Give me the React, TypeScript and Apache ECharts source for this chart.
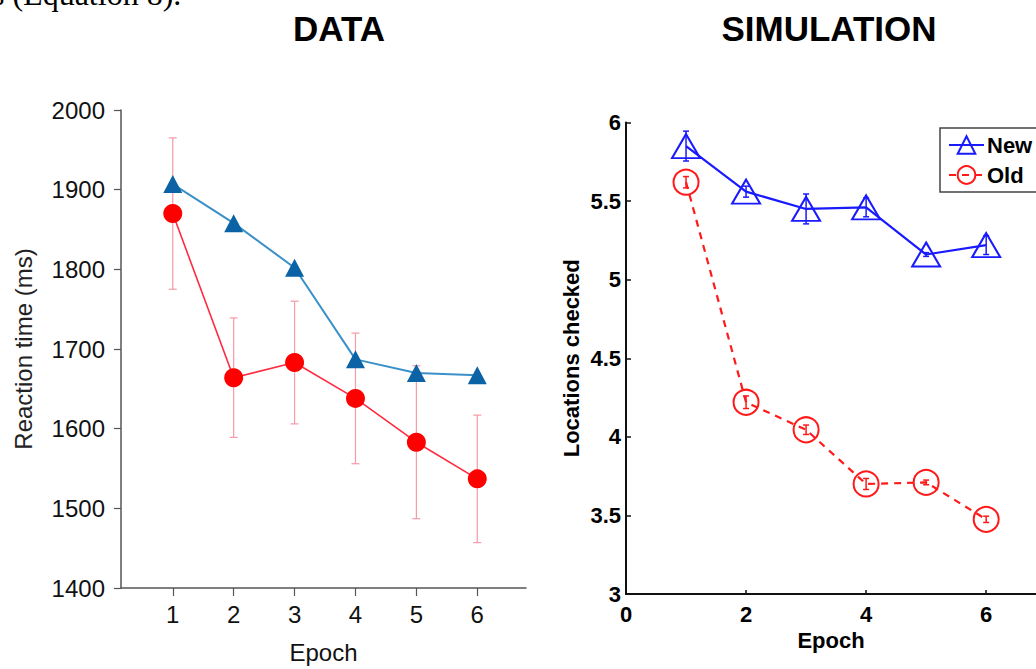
import React, { useEffect, useRef } from "react";
import * as echarts from "echarts";

// Epochs shared by both panels
const epochs = [1, 2, 3, 4, 5, 6];

// DATA panel: reaction times (ms)
const rtOld = [1870, 1664, 1683, 1638, 1583, 1537];
const rtOldErr = [95, 75, 77, 82, 96, 80];
const rtNew = [1907, 1858, 1802, 1687, 1670, 1667];

// SIMULATION panel: locations checked
const simNew = [5.85, 5.56, 5.45, 5.46, 5.16, 5.22];
const simNewErr = [0.095, 0.035, 0.095, 0.06, 0.012, 0.06];
const simOld = [5.62, 4.22, 4.045, 3.7, 3.71, 3.475];
const simOldErr = [0.036, 0.04, 0.03, 0.035, 0.015, 0.02];

const rtTicks = [1400, 1500, 1600, 1700, 1800, 1900, 2000];
const simEpochTicks = [0, 2, 4, 6];

const FONT = "Liberation Sans";

const pairs = (vals: number[]) => epochs.map((e, i) => [e, vals[i]]);
const ranges = (vals: number[], errs: number[]) =>
  epochs.map((e, i) => [e, vals[i] - errs[i], vals[i] + errs[i]]);

function errorBarRenderer(color: string, capHalf: number, width: number) {
  return (params: any, api: any) => {
    const x = api.value(0);
    const lo = api.value(1);
    const hi = api.value(2);
    const top = api.coord([x, hi]);
    const bot = api.coord([x, lo]);
    const style = { stroke: color, lineWidth: width, fill: "none" };
    return {
      type: "group",
      children: [
        { type: "line", shape: { x1: top[0], y1: top[1], x2: bot[0], y2: bot[1] }, style },
        { type: "line", shape: { x1: top[0] - capHalf, y1: top[1], x2: top[0] + capHalf, y2: top[1] }, style },
        { type: "line", shape: { x1: bot[0] - capHalf, y1: bot[1], x2: bot[0] + capHalf, y2: bot[1] }, style },
      ],
    };
  };
}

export default function App() {
  const ref = useRef<HTMLDivElement>(null);

  useEffect(() => {
    document.body.style.margin = "0";
    if (!ref.current) return;
    const chart = echarts.init(ref.current, undefined, { renderer: "svg" });

    const leftAxisColor = "#555";
    const rightAxisColor = "#111";

    chart.setOption({
      animation: false,
      backgroundColor: "#fff",
      textStyle: { fontFamily: FONT },
      graphic: [
        {
          type: "text",
          x: -8,
          y: -6,
          style: {
            text: "s (Equation 8).",
            font: '32px "Liberation Serif"',
            fill: "#000",
            textAlign: "left",
            textVerticalAlign: "middle",
          },
        },
        {
          type: "text",
          x: 339,
          y: 28,
          style: {
            text: "DATA",
            font: `bold 35px "${FONT}"`,
            fill: "#000",
            textAlign: "center",
            textVerticalAlign: "middle",
          },
        },
        {
          type: "text",
          x: 829,
          y: 28,
          style: {
            text: "SIMULATION",
            font: `bold 35px "${FONT}"`,
            fill: "#000",
            textAlign: "center",
            textVerticalAlign: "middle",
          },
        },
      ],
      legend: {
        data: ["New", "Old"],
        orient: "vertical",
        left: 940,
        top: 128,
        itemWidth: 35,
        itemHeight: 22,
        itemGap: 8,
        padding: [6, 30, 6, 8],
        backgroundColor: "#fff",
        borderColor: "#444",
        borderWidth: 1.5,
        textStyle: { fontSize: 22, fontWeight: "bold", color: "#000", fontFamily: FONT, padding: [0, 0, 0, -2] },
      },
      grid: [
        { left: 121, top: 110, width: 405, height: 479 },
        { left: 626, top: 122.5, width: 410, height: 471.5 },
      ],
      xAxis: [
        {
          gridIndex: 0,
          type: "value",
          min: 0.15,
          max: 6.8,
          axisLine: { onZero: false, lineStyle: { color: leftAxisColor, width: 1.5 } },
          axisTick: { show: true, customValues: epochs, length: 8, lineStyle: { color: leftAxisColor, width: 1.2 } },
          axisLabel: { customValues: epochs, fontSize: 24, color: "#111", margin: 14 },
          splitLine: { show: false },
          name: "Epoch",
          nameLocation: "middle",
          nameGap: 52,
          nameTextStyle: { fontSize: 24, color: "#111" },
        },
        {
          gridIndex: 1,
          type: "value",
          min: 0,
          max: 6.83,
          axisLine: { onZero: false, lineStyle: { color: rightAxisColor, width: 2 } },
          axisTick: {
            show: true,
            inside: true,
            customValues: simEpochTicks,
            length: 4,
            lineStyle: { color: rightAxisColor, width: 1.5 },
          },
          axisLabel: { customValues: simEpochTicks, fontSize: 22, fontWeight: "bold", color: "#000", margin: 9 },
          splitLine: { show: false },
          name: "Epoch",
          nameLocation: "middle",
          nameGap: 28,
          nameTextStyle: { fontSize: 22, fontWeight: "bold", color: "#000" },
        },
      ],
      yAxis: [
        {
          gridIndex: 0,
          type: "value",
          min: rtTicks[0],
          max: rtTicks[rtTicks.length - 1],
          interval: 100,
          axisLine: { show: true, onZero: false, lineStyle: { color: leftAxisColor, width: 1.5 } },
          axisTick: { show: true, length: 7, lineStyle: { color: leftAxisColor, width: 1.2 } },
          axisLabel: { fontSize: 24, color: "#111", margin: 16, formatter: (v: number) => String(v) },
          splitLine: { show: false },
          name: "Reaction time (ms)",
          nameLocation: "middle",
          nameGap: 86,
          nameTextStyle: { fontSize: 24, color: "#222" },
        },
        {
          gridIndex: 1,
          type: "value",
          min: 3,
          max: 6,
          interval: 0.5,
          axisLine: { show: true, onZero: false, lineStyle: { color: rightAxisColor, width: 2 } },
          axisTick: { show: true, inside: true, length: 5, lineStyle: { color: rightAxisColor, width: 1.5 } },
          axisLabel: { fontSize: 22, fontWeight: "bold", color: "#000", margin: 5 },
          splitLine: { show: false },
          name: "Locations checked",
          nameLocation: "middle",
          nameGap: 44,
          nameTextStyle: { fontSize: 22, fontWeight: "bold", color: "#000" },
        },
      ],
      series: [
        // DATA panel
        {
          type: "custom",
          name: "rt error",
          xAxisIndex: 0,
          yAxisIndex: 0,
          renderItem: errorBarRenderer("#f59aa6", 4, 1.2),
          encode: { x: 0, y: [1, 2] },
          data: ranges(rtOld, rtOldErr),
          z: 1,
        },
        {
          type: "line",
          name: "Data new",
          xAxisIndex: 0,
          yAxisIndex: 0,
          data: pairs(rtNew),
          symbol: "triangle",
          symbolSize: [19, 18],
          lineStyle: { color: "#3a90c8", width: 2 },
          itemStyle: { color: "#0b62a4" },
          z: 2,
        },
        {
          type: "line",
          name: "Data old",
          xAxisIndex: 0,
          yAxisIndex: 0,
          data: pairs(rtOld),
          symbol: "circle",
          symbolSize: 19,
          lineStyle: { color: "#ff2a40", width: 1.6 },
          itemStyle: { color: "#ff0000" },
          z: 3,
        },
        // SIMULATION panel
        {
          type: "line",
          name: "New",
          xAxisIndex: 1,
          yAxisIndex: 1,
          data: pairs(simNew),
          symbol: "triangle",
          symbolSize: [28, 24],
          lineStyle: { color: "#1a1aff", width: 2.2 },
          itemStyle: { color: "rgba(0,0,0,0)", borderColor: "#1a1aff", borderWidth: 2 },
          z: 2,
        },
        {
          type: "line",
          name: "Old",
          xAxisIndex: 1,
          yAxisIndex: 1,
          data: pairs(simOld),
          symbol: "circle",
          symbolSize: 25,
          lineStyle: { color: "#ff1a1a", width: 2.2, type: [7, 6] },
          itemStyle: { color: "rgba(0,0,0,0)", borderColor: "#ff1a1a", borderWidth: 2 },
          z: 2,
        },
        {
          type: "custom",
          name: "sim new error",
          xAxisIndex: 1,
          yAxisIndex: 1,
          renderItem: errorBarRenderer("#1a1aff", 3, 1.5),
          encode: { x: 0, y: [1, 2] },
          data: ranges(simNew, simNewErr),
          z: 3,
        },
        {
          type: "custom",
          name: "sim old error",
          xAxisIndex: 1,
          yAxisIndex: 1,
          renderItem: errorBarRenderer("#ff1a1a", 3, 1.5),
          encode: { x: 0, y: [1, 2] },
          data: ranges(simOld, simOldErr),
          z: 3,
        },
      ],
    });

    return () => chart.dispose();
  }, []);

  return <div ref={ref} style={{ width: 1036, height: 669 }} />;
}
